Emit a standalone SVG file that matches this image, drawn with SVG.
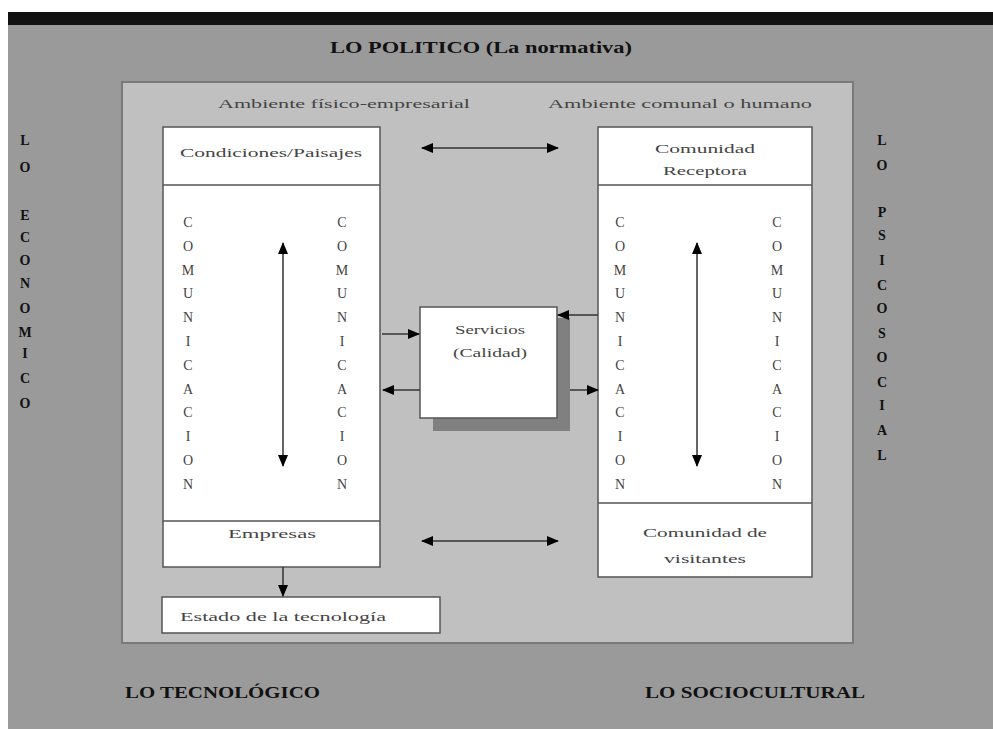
<svg xmlns="http://www.w3.org/2000/svg" width="993" height="729" viewBox="0 0 993 729">
<defs>
<style>
.lbl{font-family:"Liberation Serif","DejaVu Serif",serif;font-weight:bold;fill:#111;}
.big{font-size:17px;}
.vert{font-size:14px;text-anchor:middle;}
.in{font-family:"Liberation Serif","DejaVu Serif",serif;font-size:13px;fill:#444;text-anchor:middle;}
.col{font-family:"Liberation Serif","DejaVu Serif",serif;font-size:14px;fill:#444;text-anchor:middle;}
.box{fill:#fff;stroke:#555;stroke-width:1.5;}
.div{stroke:#555;stroke-width:1.5;}
.con{stroke:#333;stroke-width:1.5;fill:none;}
</style>
<marker id="ah" viewBox="0 0 12 10" refX="11" refY="5" markerWidth="12" markerHeight="10" markerUnits="userSpaceOnUse" orient="auto-start-reverse">
<path d="M0,0 L12,5 L0,10 z" fill="#000"/>
</marker>
</defs>
<rect x="0" y="0" width="993" height="729" fill="#fff"/>
<rect x="8" y="12" width="985" height="717" fill="#9a9a9a"/>
<rect x="8" y="12" width="985" height="13" fill="#111"/>
<text class="lbl big" x="330" y="53" textLength="302" lengthAdjust="spacingAndGlyphs">LO POLITICO (La normativa)</text>
<rect x="122" y="82" width="731" height="561" fill="#c0c0c0" stroke="#7a7a7a" stroke-width="2"/>
<text class="in" x="344" y="108" textLength="252" lengthAdjust="spacingAndGlyphs">Ambiente físico-empresarial</text>
<text class="in" x="680" y="108" textLength="264" lengthAdjust="spacingAndGlyphs">Ambiente comunal o humano</text>

<g id="lo-economico" class="lbl vert">
<text x="25" y="145">L</text><text x="25" y="172">O</text>
<text x="25" y="220">E</text><text x="25" y="242">C</text><text x="25" y="265">O</text><text x="25" y="288">N</text><text x="25" y="313">O</text><text x="25" y="337">M</text><text x="25" y="358">I</text><text x="25" y="383">C</text><text x="25" y="408">O</text>
</g>
<g id="lo-psicosocial" class="lbl vert">
<text x="882" y="145">L</text><text x="882" y="170">O</text>
<text x="882" y="217">P</text><text x="882" y="240">S</text><text x="882" y="265">I</text><text x="882" y="290">C</text><text x="882" y="313">O</text><text x="882" y="338">S</text><text x="882" y="362">O</text><text x="882" y="387">C</text><text x="882" y="410">I</text><text x="882" y="435">A</text><text x="882" y="460">L</text>
</g>

<g id="ambiente-fisico">
<rect class="box" x="163" y="127" width="217" height="440"/>
<line class="div" x1="163" y1="185" x2="380" y2="185"/>
<line class="div" x1="163" y1="521" x2="380" y2="521"/>
<text class="in" x="271" y="157" textLength="182" lengthAdjust="spacingAndGlyphs">Condiciones/Paisajes</text>
<text class="in" x="272" y="538" textLength="88" lengthAdjust="spacingAndGlyphs">Empresas</text>
<g class="col">
<text x="188" y="227">C</text><text x="188" y="251">O</text><text x="188" y="275">M</text><text x="188" y="298">U</text><text x="188" y="322">N</text><text x="188" y="346">I</text><text x="188" y="370">C</text><text x="188" y="394">A</text><text x="188" y="417">C</text><text x="188" y="441">I</text><text x="188" y="465">O</text><text x="188" y="489">N</text>
<text x="342" y="227">C</text><text x="342" y="251">O</text><text x="342" y="275">M</text><text x="342" y="298">U</text><text x="342" y="322">N</text><text x="342" y="346">I</text><text x="342" y="370">C</text><text x="342" y="394">A</text><text x="342" y="417">C</text><text x="342" y="441">I</text><text x="342" y="465">O</text><text x="342" y="489">N</text>
</g>
</g>

<g id="ambiente-comunal">
<rect class="box" x="598" y="127" width="214" height="450"/>
<line class="div" x1="598" y1="185" x2="812" y2="185"/>
<line class="div" x1="598" y1="503" x2="812" y2="503"/>
<text class="in" x="705" y="153" textLength="100" lengthAdjust="spacingAndGlyphs">Comunidad</text>
<text class="in" x="705" y="175" textLength="84" lengthAdjust="spacingAndGlyphs">Receptora</text>
<text class="in" x="705" y="537" textLength="124" lengthAdjust="spacingAndGlyphs">Comunidad de</text>
<text class="in" x="705" y="563" textLength="82" lengthAdjust="spacingAndGlyphs">visitantes</text>
<g class="col">
<text x="620" y="227">C</text><text x="620" y="251">O</text><text x="620" y="275">M</text><text x="620" y="298">U</text><text x="620" y="322">N</text><text x="620" y="346">I</text><text x="620" y="370">C</text><text x="620" y="394">A</text><text x="620" y="417">C</text><text x="620" y="441">I</text><text x="620" y="465">O</text><text x="620" y="489">N</text>
<text x="777" y="227">C</text><text x="777" y="251">O</text><text x="777" y="275">M</text><text x="777" y="298">U</text><text x="777" y="322">N</text><text x="777" y="346">I</text><text x="777" y="370">C</text><text x="777" y="394">A</text><text x="777" y="417">C</text><text x="777" y="441">I</text><text x="777" y="465">O</text><text x="777" y="489">N</text>
</g>
</g>

<g id="servicios">
<rect x="433" y="318" width="137" height="113" fill="#808080"/>
<rect class="box" x="420" y="307" width="137" height="111"/>
<text class="in" x="490" y="334" textLength="70" lengthAdjust="spacingAndGlyphs">Servicios</text>
<text class="in" x="490" y="357" textLength="74" lengthAdjust="spacingAndGlyphs">(Calidad)</text>
</g>

<g id="estado-tecnologia">
<rect class="box" x="162" y="597" width="278" height="36"/>
<text class="in" x="283" y="621" textLength="206" lengthAdjust="spacingAndGlyphs">Estado de la tecnología</text>
</g>

<g id="lo-tecnologico">
<text class="lbl big" x="125" y="698" textLength="195" lengthAdjust="spacingAndGlyphs">LO TECNOLÓGICO</text>
</g>
<g id="lo-sociocultural">
<text class="lbl big" x="645" y="698" textLength="220" lengthAdjust="spacingAndGlyphs">LO SOCIOCULTURAL</text>
</g>

<g id="connectors">
<line class="con" x1="422" y1="148" x2="558" y2="148" marker-start="url(#ah)" marker-end="url(#ah)"/>
<line class="con" x1="422" y1="541" x2="558" y2="541" marker-start="url(#ah)" marker-end="url(#ah)"/>
<line class="con" x1="283" y1="243" x2="283" y2="466" marker-start="url(#ah)" marker-end="url(#ah)"/>
<line class="con" x1="697" y1="243" x2="697" y2="466" marker-start="url(#ah)" marker-end="url(#ah)"/>
<line class="con" x1="382" y1="334" x2="419" y2="334" marker-end="url(#ah)"/>
<line class="con" x1="420" y1="390" x2="383" y2="390" marker-end="url(#ah)"/>
<line class="con" x1="598" y1="315" x2="558" y2="315" marker-end="url(#ah)"/>
<line class="con" x1="570" y1="390" x2="598" y2="390" marker-end="url(#ah)"/>
<line class="con" x1="283" y1="567" x2="283" y2="596" marker-end="url(#ah)"/>
</g>
</svg>
